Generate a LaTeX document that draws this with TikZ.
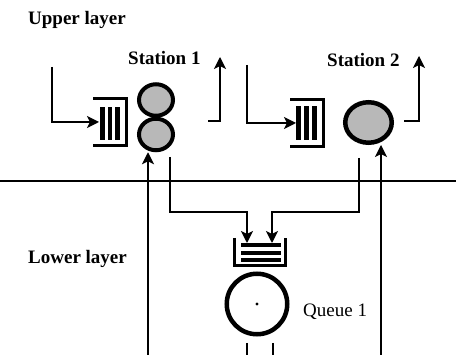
\documentclass[tikz,border=0pt]{standalone}
\usepackage{fontspec}
\setmainfont{Liberation Serif}
\usetikzlibrary{arrows.meta,shapes.geometric}
\definecolor{srvgray}{HTML}{B8B8B8}

\begin{document}
\begin{tikzpicture}[x=1pt, y=1pt,
  lbl/.style={font=\fontsize{19}{22}\selectfont\bfseries, inner sep=0pt, anchor=base west},
  srv/.style={ellipse, draw, line width=4pt, fill=srvgray, inner sep=0pt},
  qbox/.style={minimum width=33.5pt, minimum height=47pt, inner sep=0pt, outer sep=0pt},
  arr/.style={-{Stealth[length=12pt,width=12pt,inset=3pt]}, line width=1.4pt}]

\useasboundingbox (0,0) rectangle (456,-355);

% labels
\node[lbl] (upper) at (28,-25) {Upper layer};
\node[lbl] (lower) at (28,-264) {Lower layer};
\node[lbl] (st1) at (128,-65) {Station 1};
\node[lbl] (st2) at (327,-67) {Station 2};
\node[lbl, font=\fontsize{19}{22}\selectfont] (q1lbl) at (303,-317) {Queue 1};

% layer boundary
\coordinate (lyl) at (0,-181);
\coordinate (lyr) at (456,-181);
\draw[line width=2.2pt] (lyl) -- (lyr);

% station 1
\node[qbox] (q1) at (109.75,-122) {};
\draw[line width=3pt] (q1.north west) -- (q1.north east) -- (q1.south east) -- (q1.south west);
\foreach \x in {100,107.5,115} \fill (\x,-107) rectangle +(4.5,-33);
\node[srv, minimum width=34pt, minimum height=31.5pt] (s1a) at (156,-100) {};
\node[srv, minimum width=34pt, minimum height=31.5pt] (s1b) at (156,-134.5) {};

% station 2
\node[qbox] (q2) at (306.75,-123) {};
\draw[line width=3pt] (q2.north west) -- (q2.north east) -- (q2.south east) -- (q2.south west);
\foreach \x in {296,304,312} \fill (\x,-106) rectangle +(4.5,-34);
\node[srv, line width=4.5pt, minimum width=46.5pt, minimum height=40.5pt] (s2) at (368.5,-122.5) {};

% queue 1 (lower layer)
\node[qbox, minimum width=51pt, minimum height=27.5pt] (q3) at (260,-251.75) {};
\draw[line width=3pt] (q3.north west) -- (q3.south west) -- (q3.south east) -- (q3.north east);
\foreach \y in {243,251,258} \fill (241,-\y) rectangle +(40,-4);
\node[circle, draw, line width=4.5pt, minimum size=60.5pt, inner sep=0pt, fill=white] (srv3) at (257,-304) {};
\fill (srv3.center) circle (1.6);

% connectors
\coordinate (in1) at (52,-67);
\coordinate (in2) at (247,-65);
\coordinate (out1) at (208,-121);
\coordinate (up1) at (220,-57);
\coordinate (out2) at (404,-121);
\coordinate (up2) at (419,-56);
\coordinate (fb1) at (148,-355);
\coordinate (fb2) at (381,-355);
\coordinate (dep1) at (170,-157);
\coordinate (dep2) at (359,-158);
\coordinate (dn1) at (247,-343);
\coordinate (dn2) at (273,-343);

\draw[arr] (in1) |- ([xshift=6pt]q1.west);
\draw[arr] (in2) |- ([xshift=6pt]q2.west);
\draw[arr] (out1) -| (up1);
\draw[arr] (out2) -| (up2);
\draw[arr] (fb1) -- (fb1 |- s1b.south);
\draw[arr] (fb2) -- (fb2 |- s2.south);
\draw[arr] (dep1) -- ++(0,-55) -| ([xshift=-13pt,yshift=-5pt]q3.north);
\draw[arr] (dep2) -- ++(0,-54) -| ([xshift=12pt,yshift=-5pt]q3.north);
\draw[line width=1.4pt] (dn1) -- ++(0,-12);
\draw[line width=1.4pt] (dn2) -- ++(0,-12);
\end{tikzpicture}
\end{document}
